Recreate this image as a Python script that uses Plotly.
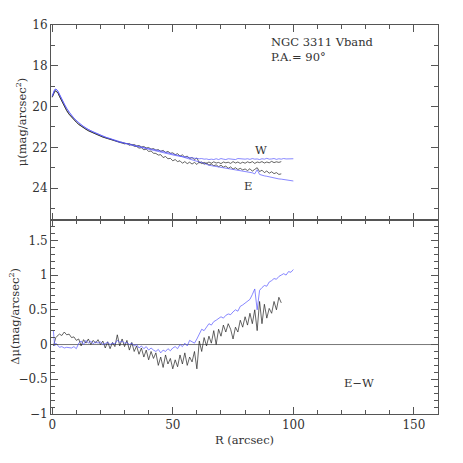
import plotly.graph_objects as go
from plotly.subplots import make_subplots

# radii (arcsec) for the surface-brightness profiles
r_blk = [0, 0.5, 1, 1.5, 2, 2.5, 3, 3.5, 4,
         5, 6, 7, 8, 9, 10, 11, 12, 13, 14, 15, 16, 17, 18, 19, 20, 21, 22, 23, 24,
         25, 26, 27, 28, 29, 30, 31, 32, 33, 34, 35, 36, 37, 38, 39, 40, 41, 42, 43, 44,
         45, 46, 47, 48, 49, 50, 51, 52, 53, 54, 55, 56, 57, 58, 59, 60, 61, 62, 63, 64,
         65, 66, 67, 68, 69, 70, 71, 72, 73, 74, 75, 76, 77, 78, 79, 80, 81, 82, 83, 84,
         85, 86, 87, 88, 89, 90, 91, 92, 93, 94, 95]
r_blu = r_blk + [96, 97, 98, 99, 100]

mu_blk_w = [19.55, 19.38, 19.27, 19.24, 19.28, 19.36, 19.5, 19.63, 19.76,
            20.0, 20.2, 20.38, 20.52, 20.65, 20.77, 20.88, 20.97, 21.05, 21.12,
            21.19, 21.25, 21.3, 21.36, 21.41, 21.45, 21.5, 21.54, 21.58, 21.62,
            21.66, 21.7, 21.72, 21.77, 21.79,
            21.83, 21.81, 21.9, 21.86, 21.95, 21.96, 22.04, 22.02, 22.12, 22.09,
            22.2, 22.18, 22.29, 22.3, 22.38, 22.36, 22.5, 22.45, 22.56, 22.54,
            22.66, 22.6, 22.7, 22.66, 22.78, 22.7, 22.8, 22.73, 22.82, 22.74,
            22.84, 22.72, 22.8, 22.74, 22.79, 22.72, 22.78, 22.71, 22.77, 22.74,
            22.8, 22.72, 22.76, 22.73, 22.79, 22.7, 22.77, 22.72, 22.79, 22.73,
            22.78, 22.71, 22.76, 22.7, 22.79, 22.72, 22.75, 22.7, 22.77, 22.72,
            22.76, 22.69, 22.75, 22.71, 22.74, 22.7]

mu_blk_e = [19.52, 19.35, 19.25, 19.22, 19.27, 19.35, 19.49, 19.62, 19.75,
            19.99, 20.19, 20.37, 20.51, 20.64, 20.76, 20.87, 20.96, 21.04, 21.11,
            21.18, 21.24, 21.3, 21.35, 21.4, 21.44, 21.49, 21.53, 21.57, 21.61,
            21.64, 21.68, 21.7, 21.74, 21.76,
            21.8, 21.83, 21.81, 21.89, 21.86, 21.93, 21.91, 21.98, 21.96, 22.03,
            22.01, 22.09, 22.06, 22.14, 22.11, 22.2, 22.15, 22.25, 22.2, 22.29,
            22.27, 22.36, 22.31, 22.43, 22.37, 22.48, 22.43, 22.55, 22.5, 22.6,
            22.52, 22.76, 22.72, 22.83, 22.77, 22.87, 22.82, 22.9, 22.86, 22.95,
            22.88, 22.97, 22.92, 23.03, 22.96, 23.07, 23.0, 23.09, 23.03, 23.11,
            23.06, 23.14, 23.05, 23.17, 23.08, 23.0, 23.19, 23.12, 23.24, 23.16,
            23.27, 23.2, 23.29, 23.24, 23.33, 23.3]

mu_blu_w = [19.5, 19.3, 19.18, 19.15, 19.18, 19.27, 19.4, 19.53, 19.66,
            19.9, 20.1, 20.28, 20.44, 20.58, 20.7, 20.8, 20.9, 20.98, 21.06,
            21.13, 21.19, 21.25, 21.3, 21.33, 21.42, 21.45, 21.5, 21.54, 21.58,
            21.62, 21.66, 21.7, 21.72, 21.76, 21.79, 21.82, 21.86, 21.88, 21.92,
            21.95, 21.98, 22.01, 22.04, 22.07, 22.1, 22.13, 22.16, 22.19, 22.22,
            22.25, 22.28, 22.3, 22.33, 22.36, 22.38, 22.4, 22.42, 22.44, 22.46,
            22.47, 22.5, 22.5, 22.52, 22.53, 22.55, 22.56, 22.55, 22.58, 22.57,
            22.6, 22.58, 22.6, 22.56, 22.6, 22.55, 22.58, 22.6, 22.56, 22.58,
            22.57, 22.6, 22.55, 22.56, 22.6, 22.58, 22.56, 22.59, 22.55, 22.58,
            22.57, 22.6, 22.56, 22.58, 22.54, 22.58, 22.57, 22.55, 22.59, 22.56,
            22.58, 22.55, 22.57, 22.56, 22.57, 22.56]

mu_blu_e = [19.48, 19.28, 19.17, 19.15, 19.19, 19.28, 19.41, 19.54, 19.67,
            19.88, 20.08, 20.27, 20.43, 20.57, 20.69, 20.8, 20.89, 20.98, 21.06,
            21.13, 21.19, 21.25, 21.3, 21.36, 21.4, 21.45, 21.5, 21.54, 21.57,
            21.62, 21.65, 21.7, 21.76, 21.77, 21.8, 21.82, 21.85, 21.88, 21.9,
            21.93, 21.96, 21.99, 22.02, 22.04, 22.06, 22.08, 22.1, 22.13, 22.15,
            22.17, 22.2, 22.24, 22.26, 22.3, 22.33, 22.36, 22.4, 22.42, 22.46,
            22.49, 22.53, 22.56, 22.6, 22.64, 22.68, 22.72, 22.74, 22.8, 22.82,
            22.88, 22.9, 22.92, 22.95, 22.98, 23.0, 23.02, 23.05, 23.06, 23.07,
            23.1, 23.12, 23.14, 23.15, 23.17, 23.2, 23.22, 23.24, 23.25, 23.3,
            23.1, 23.33, 23.38, 23.4, 23.42, 23.45, 23.48, 23.5, 23.52, 23.55,
            23.56, 23.58, 23.6, 23.62, 23.63, 23.65]

# E-W differences
r_dblk = [0.5, 1, 1.5, 2, 3, 4, 5, 6, 7, 8, 9, 10, 11, 12, 13, 14, 15, 16, 17, 18, 19,
          20, 21, 22, 23, 24, 25, 26, 27, 28, 29, 30, 31, 32, 33, 34, 35, 36, 37, 38, 39,
          40, 41, 42, 43, 44, 45, 46, 47, 48, 49, 50, 51, 52, 53, 54, 55, 56, 57, 58, 59,
          60, 61, 62, 63, 64, 65, 66, 67, 68, 69, 70, 71, 72, 73, 74, 75, 76, 77, 78, 79,
          80, 81, 82, 83, 84, 85, 86, 87, 88, 89, 90, 91, 92, 93, 94, 95]
d_blk = [-0.02, 0.05, 0.1, 0.12, 0.15, 0.13, 0.18, 0.14, 0.15, 0.1, 0.11, 0.06, 0.08,
         -0.02, 0.07, 0.02, 0.08, 0.0, 0.06, 0.02, 0.07, 0.0, 0.05, -0.05, 0.04, -0.06,
         0.03, -0.03, 0.14, -0.02, 0.08, -0.03, 0.06, -0.08, 0.03, -0.1, -0.02, -0.14,
         -0.05, -0.18, -0.08, -0.22, -0.1, -0.2, -0.12, -0.3, -0.18, -0.33, -0.15, -0.28,
         -0.2, -0.35, -0.22, -0.32, -0.15, -0.28, -0.12, -0.3, -0.18, -0.25, -0.1, -0.35,
         0.05, -0.1, 0.1, -0.02, 0.12, 0.02, 0.2, 0.0, 0.22, 0.12, 0.28, 0.18, 0.3, 0.22,
         0.08, 0.25, 0.18, 0.35, 0.25, 0.4, 0.28, 0.45, 0.3, 0.5, 0.2, 0.62, 0.3, 0.58,
         0.38, 0.52, 0.45, 0.62, 0.5, 0.68, 0.6]

r_dblu = r_dblk + [96, 97, 98, 99, 100]
d_blu = [0.2, -0.02, 0.02, 0.0, -0.04, -0.03, -0.05, -0.04, -0.05, -0.05, -0.03, -0.06,
         0.02, 0.05, 0.0, 0.06, 0.02, 0.05, 0.01, 0.04, 0.02, 0.04, 0.0, 0.02, 0.03, 0.0,
         0.02, 0.01, 0.06, 0.03, 0.05, 0.02, 0.03, 0.0, 0.02, -0.02, 0.0, -0.05, -0.02,
         -0.06, -0.03, -0.08, -0.05, -0.08, -0.1, -0.07, -0.12, -0.08, -0.1, -0.06, -0.09,
         -0.05, -0.03, -0.06, 0.0, -0.03, 0.02, -0.02, 0.06, 0.04, 0.02, 0.08, 0.15, 0.22,
         0.2, 0.25, 0.3, 0.28, 0.33, 0.35, 0.37, 0.4, 0.38, 0.42, 0.44, 0.43, 0.47, 0.5,
         0.48, 0.55, 0.57, 0.6, 0.62, 0.65, 0.72, 0.8, 0.5, 0.78, 0.82, 0.85, 0.84, 0.9,
         0.92, 0.95, 0.94, 0.98, 1.0, 1.02, 1.0, 1.05, 1.04, 1.08]

BLK = "#222222"
BLU = "#5555ff"
AX = "#555555"
FONT = dict(family="DejaVu Serif", size=12, color="#333333")
NOTE = dict(family="DejaVu Serif", size=11.5, color="#333333")

fig = make_subplots(rows=2, cols=1, shared_xaxes=True, vertical_spacing=0)

for r, mu, c in [(r_blk, mu_blk_w, BLK), (r_blk, mu_blk_e, BLK),
                 (r_blu, mu_blu_w, BLU), (r_blu, mu_blu_e, BLU)]:
    fig.add_trace(go.Scatter(x=r, y=mu, mode="lines", line=dict(color=c, width=0.7)), row=1, col=1)

fig.add_trace(go.Scatter(x=[0, 160], y=[0, 0], mode="lines",
                         line=dict(color="#777777", width=1)), row=2, col=1)
fig.add_trace(go.Scatter(x=r_dblk, y=d_blk, mode="lines", line=dict(color=BLK, width=0.7)), row=2, col=1)
fig.add_trace(go.Scatter(x=r_dblu, y=d_blu, mode="lines", line=dict(color=BLU, width=0.7)), row=2, col=1)

axis_style = dict(showline=True, linecolor=AX, linewidth=1, mirror="ticks",
                  ticks="inside", tickcolor=AX, showgrid=False, zeroline=False,
                  tickfont=FONT, automargin=False)

fig.update_xaxes(range=[-0.5, 160], dtick=50, tick0=0, ticklen=7,
                 minor=dict(dtick=10, ticklen=4, ticks="inside", tickcolor=AX),
                 **axis_style)
fig.update_xaxes(title=dict(text="R (arcsec)", font=NOTE, standoff=4), row=2, col=1)

fig.update_yaxes(range=[25.54, 16], dtick=2, tick0=16, ticklen=7,
                 minor=dict(dtick=1, ticklen=4, ticks="inside", tickcolor=AX),
                 row=1, col=1, **axis_style)
fig.update_yaxes(range=[-1, 1.8], dtick=0.5, tick0=0, ticklen=7,
                 minor=dict(dtick=0.1, ticklen=4, ticks="inside", tickcolor=AX),
                 row=2, col=1, **axis_style)

# y titles as rotated annotations so their distance from the axes can be set
fig.add_annotation(text="μ(mag/arcsec<sup>2</sup>)", x=0, y=0.75, xref="paper", yref="paper",
                   xanchor="center", yanchor="middle", xshift=-30, textangle=-90,
                   showarrow=False, font=NOTE)
fig.add_annotation(text="Δμ(mag/arcsec<sup>2</sup>)", x=0, y=0.25, xref="paper", yref="paper",
                   xanchor="center", yanchor="middle", xshift=-36, textangle=-90,
                   showarrow=False, font=NOTE)

notes = [("NGC 3311 Vband", 90, 16.82, "x", "y", "left"),
         ("P.A.= 90°", 90, 17.56, "x", "y", "left"),
         ("W", 86.5, 22.13, "x", "y", "center"),
         ("E", 81.4, 23.89, "x", "y", "center"),
         ("E−W", 120, -0.55, "x2", "y2", "left")]
for txt, x, y, xr, yr, anc in notes:
    fig.add_annotation(text=txt, x=x, y=y, xref=xr, yref=yr, showarrow=False,
                       xanchor=anc, font=NOTE)

fig.update_layout(width=463, height=463, margin=dict(l=43, r=33, t=17, b=57),
                  showlegend=False, plot_bgcolor="white", paper_bgcolor="white", font=FONT)

fig.write_html("out.html")
